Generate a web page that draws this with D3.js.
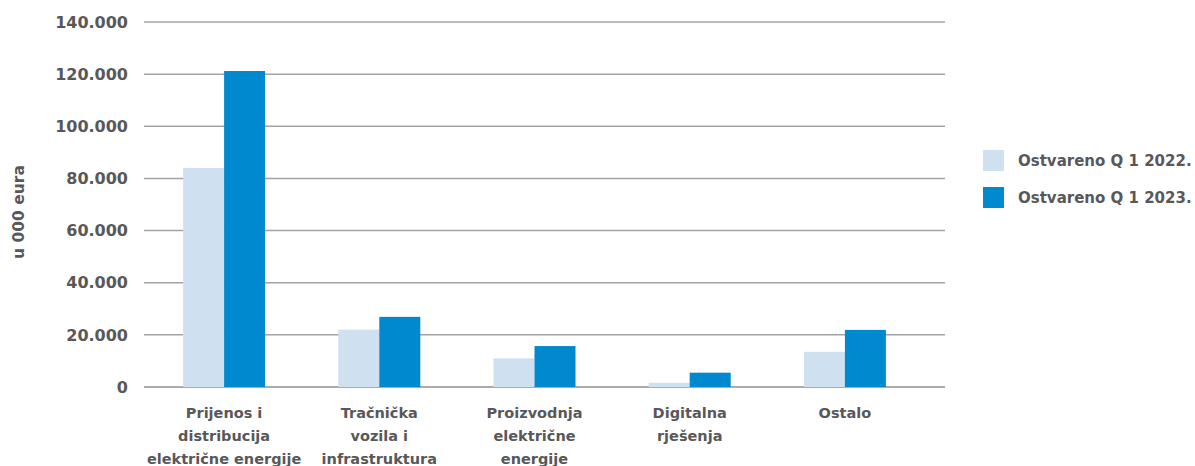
<!DOCTYPE html>
<html>
<head>
<meta charset="utf-8">
<script src="https://cdn.jsdelivr.net/npm/d3@7"></script>
<style>
	body { margin: 0; background: #fff; }
	text { font-family: "DejaVu Sans", sans-serif; font-weight: 700; fill: #58585a; }
</style>
</head>
<body>
<svg id="chart" width="1195" height="466"></svg>
<script>
// chart data
let categories	= [['Prijenos i', 'distribucija', 'električne energije'], ['Tračnička', 'vozila i', 'infrastruktura'], ['Proizvodnja', 'električne', 'energije'], ['Digitalna', 'rješenja'], ['Ostalo']];
let seriesNames	= ['Ostvareno Q 1 2022.', 'Ostvareno Q 1 2023.'];
let values2022	= [84000, 22000, 11000, 1600, 13500];
let values2023	= [121200, 26900, 15700, 5500, 21900];
let yTicks		= [0, 20000, 40000, 60000, 80000, 100000, 120000, 140000];
let colors		= ['#cfe0f0', '#0089cf'];

let svg		= d3.select('#chart');
let locale	= d3.formatLocale({ decimal: ',', thousands: '.', grouping: [3], currency: ['', ' €'] });
let fmt		= locale.format(',');

let x	= d3.scaleBand().domain(d3.range(categories.length)).range([146.5, 922.5]);
let xs	= d3.scaleBand().domain([0, 1]).range([0, 82]);
let y	= d3.scaleLinear().domain([0, 140000]).range([387, 22]);

// gridlines + y labels
let yAxis = svg.append('g').attr('class', 'y-axis');
yAxis.selectAll('line').data(yTicks).enter().append('line')
	.attr('x1', 144).attr('x2', 945)
	.attr('y1', (d) => y(d)).attr('y2', (d) => y(d))
	.style('stroke', (d) => d == 0 ? '#8f8f8f' : '#a3a3a3').style('stroke-width', 1.5);
yAxis.selectAll('text').data(yTicks).enter().append('text')
	.attr('x', 128).attr('y', (d) => y(d)).attr('dy', '0.36em')
	.attr('text-anchor', 'end').style('font-size', '16px')
	.text((d) => fmt(d));

svg.append('text').attr('transform', 'translate(18,212) rotate(-90)')
	.attr('text-anchor', 'middle').attr('dy', '0.36em').style('font-size', '15.5px').text('u 000 eura');

// bars
let groups = svg.selectAll('.group').data(categories).enter().append('g')
	.attr('class', 'group')
	.attr('transform', (d, i) => 'translate(' + (x(i) + x.bandwidth() / 2 - 41) + ',0)');

groups.selectAll('rect').data((d, i) => [values2022[i], values2023[i]]).enter().append('rect')
	.attr('x', (d, j) => xs(j)).attr('width', xs.bandwidth())
	.attr('y', (d) => y(d)).attr('height', (d) => y(0) - y(d))
	.style('fill', (d, j) => colors[j]);

// category labels
groups.append('text').attr('x', 41).attr('y', 418).attr('text-anchor', 'middle').style('font-size', '14.5px')
	.selectAll('tspan').data((d) => d).enter().append('tspan')
	.attr('x', 41).attr('dy', (d, k) => k == 0 ? 0 : 23).text((d) => d);

// legend
let legend = svg.selectAll('.legend').data(seriesNames).enter().append('g')
	.attr('class', 'legend').attr('transform', (d, i) => 'translate(983,' + (150 + i * 37) + ')');
legend.append('rect').attr('width', 21).attr('height', 21).style('fill', (d, i) => colors[i]);
legend.append('text').attr('x', 35).attr('y', 11).attr('dy', '0.36em').style('font-size', '15px').text((d) => d);
</script>
</body>
</html>
